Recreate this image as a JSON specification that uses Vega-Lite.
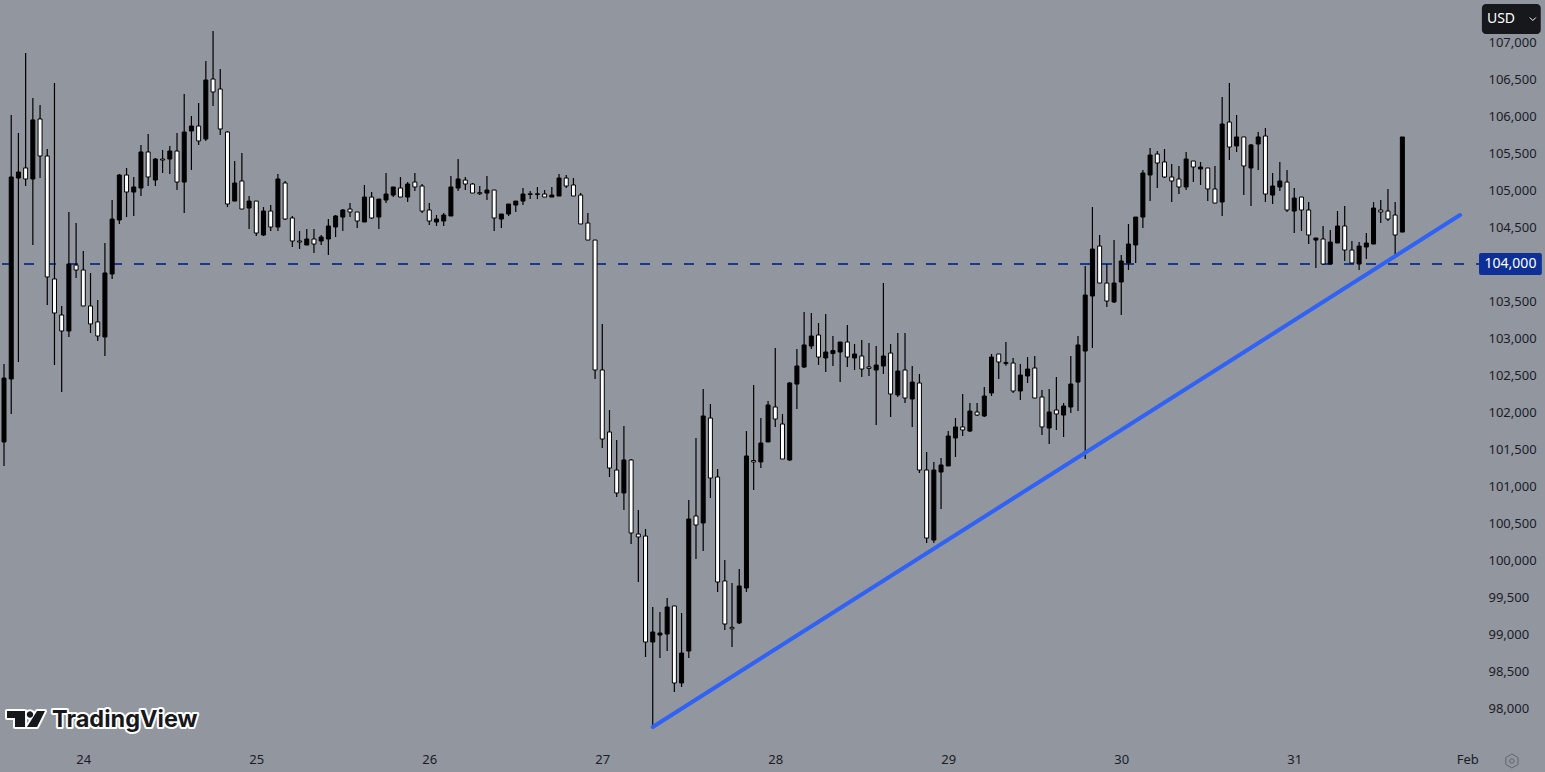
{
"$schema":"https://vega.github.io/schema/vega-lite/v6.json",
"autosize":"none",
"padding":{"left":0,"right":65,"top":0,"bottom":23},
"width":1480,"height":749,
"background":"#92969e",
"config":{"view":{"stroke":null},"font":"Noto Sans",
 "axisX":{"title":null,"grid":false,"domain":false,"ticks":false,"labelPadding":4,"labelFont":"Noto Sans","labelFontSize":13,"labelColor":"#1a1d28","labelOverlap":false,"labelBound":false,"labelFlush":false},
 "axisY":{"title":null,"grid":false,"domain":false,"ticks":false,"labelPadding":8,"labelFont":"Noto Sans","labelFontSize":13,"labelColor":"#1a1d28","labelOverlap":false,"labelBound":false}},
"datasets":{
"candles":[
{"t":"2025-01-23T13:00Z","o":101595,"h":102649,"l":101271,"c":102459},
{"t":"2025-01-23T14:00Z","o":102446,"h":106014,"l":101973,"c":105176},
{"t":"2025-01-23T15:00Z","o":105162,"h":105771,"l":102676,"c":105243},
{"t":"2025-01-23T16:00Z","o":105298,"h":106851,"l":105054,"c":105149},
{"t":"2025-01-23T17:00Z","o":105149,"h":106244,"l":104257,"c":105947},
{"t":"2025-01-23T18:00Z","o":105960,"h":106149,"l":105162,"c":105460},
{"t":"2025-01-23T19:00Z","o":105460,"h":105555,"l":103446,"c":103825},
{"t":"2025-01-23T20:00Z","o":103798,"h":106447,"l":102635,"c":103338},
{"t":"2025-01-23T21:00Z","o":103311,"h":103433,"l":102270,"c":103095},
{"t":"2025-01-23T22:00Z","o":103095,"h":104703,"l":103014,"c":104000},
{"t":"2025-01-23T23:00Z","o":103986,"h":104554,"l":103811,"c":103919},
{"t":"2025-01-24T00:00Z","o":103919,"h":104175,"l":103433,"c":103433},
{"t":"2025-01-24T01:00Z","o":103433,"h":103879,"l":103068,"c":103190},
{"t":"2025-01-24T02:00Z","o":103217,"h":103514,"l":102960,"c":103027},
{"t":"2025-01-24T03:00Z","o":103014,"h":104284,"l":102757,"c":103879},
{"t":"2025-01-24T04:00Z","o":103865,"h":104865,"l":103798,"c":104608},
{"t":"2025-01-24T05:00Z","o":104595,"h":105216,"l":104541,"c":105203},
{"t":"2025-01-24T06:00Z","o":105203,"h":105298,"l":104635,"c":104973},
{"t":"2025-01-24T07:00Z","o":104973,"h":105176,"l":104649,"c":105041},
{"t":"2025-01-24T08:00Z","o":105027,"h":105609,"l":104919,"c":105514},
{"t":"2025-01-24T09:00Z","o":105514,"h":105757,"l":105054,"c":105176},
{"t":"2025-01-24T10:00Z","o":105135,"h":105433,"l":105054,"c":105419},
{"t":"2025-01-24T11:00Z","o":105419,"h":105541,"l":105230,"c":105405},
{"t":"2025-01-24T12:00Z","o":105419,"h":105595,"l":105216,"c":105527},
{"t":"2025-01-24T13:00Z","o":105527,"h":105771,"l":105000,"c":105108},
{"t":"2025-01-24T14:00Z","o":105108,"h":106298,"l":104689,"c":105784},
{"t":"2025-01-24T15:00Z","o":105798,"h":106001,"l":105271,"c":105865},
{"t":"2025-01-24T16:00Z","o":105865,"h":106176,"l":105609,"c":105663},
{"t":"2025-01-24T17:00Z","o":105690,"h":106744,"l":105663,"c":106487},
{"t":"2025-01-24T18:00Z","o":106500,"h":107149,"l":106135,"c":106325},
{"t":"2025-01-24T19:00Z","o":106365,"h":106636,"l":105744,"c":105825},
{"t":"2025-01-24T20:00Z","o":105784,"h":105798,"l":104770,"c":104811},
{"t":"2025-01-24T21:00Z","o":104851,"h":105392,"l":104851,"c":105095},
{"t":"2025-01-24T22:00Z","o":105122,"h":105500,"l":104743,"c":104743},
{"t":"2025-01-24T23:00Z","o":104757,"h":104919,"l":104473,"c":104851},
{"t":"2025-01-25T00:00Z","o":104851,"h":104851,"l":104378,"c":104419},
{"t":"2025-01-25T01:00Z","o":104392,"h":104770,"l":104378,"c":104716},
{"t":"2025-01-25T02:00Z","o":104716,"h":104797,"l":104446,"c":104500},
{"t":"2025-01-25T03:00Z","o":104500,"h":105216,"l":104446,"c":105149},
{"t":"2025-01-25T04:00Z","o":105095,"h":105122,"l":104595,"c":104608},
{"t":"2025-01-25T05:00Z","o":104622,"h":104649,"l":104230,"c":104311},
{"t":"2025-01-25T06:00Z","o":104311,"h":104446,"l":104203,"c":104297},
{"t":"2025-01-25T07:00Z","o":104257,"h":104473,"l":104257,"c":104338},
{"t":"2025-01-25T08:00Z","o":104338,"h":104473,"l":104149,"c":104270},
{"t":"2025-01-25T09:00Z","o":104311,"h":104392,"l":104257,"c":104365},
{"t":"2025-01-25T10:00Z","o":104338,"h":104608,"l":104122,"c":104514},
{"t":"2025-01-25T11:00Z","o":104500,"h":104662,"l":104365,"c":104649},
{"t":"2025-01-25T12:00Z","o":104635,"h":104743,"l":104446,"c":104730},
{"t":"2025-01-25T13:00Z","o":104743,"h":104824,"l":104635,"c":104703},
{"t":"2025-01-25T14:00Z","o":104703,"h":104703,"l":104487,"c":104581},
{"t":"2025-01-25T15:00Z","o":104568,"h":105068,"l":104568,"c":104905},
{"t":"2025-01-25T16:00Z","o":104905,"h":104973,"l":104608,"c":104622},
{"t":"2025-01-25T17:00Z","o":104635,"h":104878,"l":104473,"c":104878},
{"t":"2025-01-25T18:00Z","o":104865,"h":105230,"l":104824,"c":104946},
{"t":"2025-01-25T19:00Z","o":104932,"h":105041,"l":104905,"c":105041},
{"t":"2025-01-25T20:00Z","o":105027,"h":105176,"l":104905,"c":104905},
{"t":"2025-01-25T21:00Z","o":104905,"h":105108,"l":104838,"c":105081},
{"t":"2025-01-25T22:00Z","o":105108,"h":105230,"l":104986,"c":105041},
{"t":"2025-01-25T23:00Z","o":105054,"h":105081,"l":104689,"c":104716},
{"t":"2025-01-26T00:00Z","o":104730,"h":104824,"l":104527,"c":104581},
{"t":"2025-01-26T01:00Z","o":104568,"h":104662,"l":104514,"c":104608},
{"t":"2025-01-26T02:00Z","o":104581,"h":104689,"l":104514,"c":104662},
{"t":"2025-01-26T03:00Z","o":104649,"h":105189,"l":104649,"c":105041},
{"t":"2025-01-26T04:00Z","o":105027,"h":105419,"l":104986,"c":105149},
{"t":"2025-01-26T05:00Z","o":105135,"h":105176,"l":105000,"c":105081},
{"t":"2025-01-26T06:00Z","o":105081,"h":105095,"l":104959,"c":104959},
{"t":"2025-01-26T07:00Z","o":104965,"h":105054,"l":104932,"c":104950},
{"t":"2025-01-26T08:00Z","o":104959,"h":105189,"l":104865,"c":105000},
{"t":"2025-01-26T09:00Z","o":105000,"h":105000,"l":104446,"c":104622},
{"t":"2025-01-26T10:00Z","o":104608,"h":104676,"l":104487,"c":104676},
{"t":"2025-01-26T11:00Z","o":104676,"h":104811,"l":104649,"c":104811},
{"t":"2025-01-26T12:00Z","o":104797,"h":104851,"l":104703,"c":104851},
{"t":"2025-01-26T13:00Z","o":104851,"h":105027,"l":104797,"c":104946},
{"t":"2025-01-26T14:00Z","o":104950,"h":104986,"l":104878,"c":104940},
{"t":"2025-01-26T15:00Z","o":104950,"h":105041,"l":104878,"c":104940},
{"t":"2025-01-26T16:00Z","o":104946,"h":105000,"l":104905,"c":104905},
{"t":"2025-01-26T17:00Z","o":104905,"h":105041,"l":104905,"c":104932},
{"t":"2025-01-26T18:00Z","o":104919,"h":105216,"l":104919,"c":105162},
{"t":"2025-01-26T19:00Z","o":105162,"h":105203,"l":105027,"c":105054},
{"t":"2025-01-26T20:00Z","o":105068,"h":105162,"l":104919,"c":104919},
{"t":"2025-01-26T21:00Z","o":104932,"h":104959,"l":104541,"c":104541},
{"t":"2025-01-26T22:00Z","o":104554,"h":104689,"l":104324,"c":104324},
{"t":"2025-01-26T23:00Z","o":104324,"h":104324,"l":102446,"c":102568},
{"t":"2025-01-27T00:00Z","o":102568,"h":103190,"l":101514,"c":101635},
{"t":"2025-01-27T01:00Z","o":101730,"h":102027,"l":101122,"c":101243},
{"t":"2025-01-27T02:00Z","o":101216,"h":101622,"l":100852,"c":100906},
{"t":"2025-01-27T03:00Z","o":100906,"h":101811,"l":100676,"c":101352},
{"t":"2025-01-27T04:00Z","o":101352,"h":101365,"l":100216,"c":100365},
{"t":"2025-01-27T05:00Z","o":100351,"h":100676,"l":99703,"c":100311},
{"t":"2025-01-27T06:00Z","o":100324,"h":100419,"l":98689,"c":98892},
{"t":"2025-01-27T07:00Z","o":98892,"h":99365,"l":97743,"c":99027},
{"t":"2025-01-27T08:00Z","o":98986,"h":99297,"l":98676,"c":99013},
{"t":"2025-01-27T09:00Z","o":99000,"h":99487,"l":98770,"c":99365},
{"t":"2025-01-27T10:00Z","o":99379,"h":99379,"l":98216,"c":98338},
{"t":"2025-01-27T11:00Z","o":98338,"h":99284,"l":98284,"c":98743},
{"t":"2025-01-27T12:00Z","o":98770,"h":100811,"l":98676,"c":100554},
{"t":"2025-01-27T13:00Z","o":100595,"h":101649,"l":100013,"c":100473},
{"t":"2025-01-27T14:00Z","o":100500,"h":102311,"l":100122,"c":101946},
{"t":"2025-01-27T15:00Z","o":101919,"h":102108,"l":100838,"c":101108},
{"t":"2025-01-27T16:00Z","o":101122,"h":101230,"l":99568,"c":99703},
{"t":"2025-01-27T17:00Z","o":99717,"h":100000,"l":99054,"c":99135},
{"t":"2025-01-27T18:00Z","o":99090,"h":99690,"l":98824,"c":99070},
{"t":"2025-01-27T19:00Z","o":99149,"h":99878,"l":99135,"c":99649},
{"t":"2025-01-27T20:00Z","o":99622,"h":101743,"l":99568,"c":101406},
{"t":"2025-01-27T21:00Z","o":101345,"h":102365,"l":100946,"c":101325},
{"t":"2025-01-27T22:00Z","o":101325,"h":101919,"l":101243,"c":101581},
{"t":"2025-01-27T23:00Z","o":101595,"h":102149,"l":101595,"c":102095},
{"t":"2025-01-28T00:00Z","o":102068,"h":102865,"l":101798,"c":101905},
{"t":"2025-01-28T01:00Z","o":101838,"h":101973,"l":101365,"c":101365},
{"t":"2025-01-28T02:00Z","o":101352,"h":102405,"l":101338,"c":102392},
{"t":"2025-01-28T03:00Z","o":102378,"h":102851,"l":102040,"c":102622},
{"t":"2025-01-28T04:00Z","o":102608,"h":103352,"l":102595,"c":102906},
{"t":"2025-01-28T05:00Z","o":102892,"h":103338,"l":102851,"c":103027},
{"t":"2025-01-28T06:00Z","o":103041,"h":103203,"l":102635,"c":102743},
{"t":"2025-01-28T07:00Z","o":102730,"h":103325,"l":102541,"c":102811},
{"t":"2025-01-28T08:00Z","o":102790,"h":103027,"l":102622,"c":102830},
{"t":"2025-01-28T09:00Z","o":102811,"h":102946,"l":102405,"c":102946},
{"t":"2025-01-28T10:00Z","o":102946,"h":103176,"l":102608,"c":102743},
{"t":"2025-01-28T11:00Z","o":102730,"h":102919,"l":102568,"c":102784},
{"t":"2025-01-28T12:00Z","o":102757,"h":102973,"l":102473,"c":102581},
{"t":"2025-01-28T13:00Z","o":102610,"h":102932,"l":102487,"c":102590},
{"t":"2025-01-28T14:00Z","o":102568,"h":102892,"l":101824,"c":102635},
{"t":"2025-01-28T15:00Z","o":102622,"h":103743,"l":102514,"c":102757},
{"t":"2025-01-28T16:00Z","o":102797,"h":102919,"l":101933,"c":102243},
{"t":"2025-01-28T17:00Z","o":102230,"h":103068,"l":102203,"c":102554},
{"t":"2025-01-28T18:00Z","o":102568,"h":103068,"l":102122,"c":102189},
{"t":"2025-01-28T19:00Z","o":102176,"h":102622,"l":101798,"c":102405},
{"t":"2025-01-28T20:00Z","o":102392,"h":102514,"l":101176,"c":101216},
{"t":"2025-01-28T21:00Z","o":101216,"h":101460,"l":100230,"c":100297},
{"t":"2025-01-28T22:00Z","o":100270,"h":101325,"l":100230,"c":101216},
{"t":"2025-01-28T23:00Z","o":101189,"h":101379,"l":100689,"c":101284},
{"t":"2025-01-29T00:00Z","o":101271,"h":101743,"l":101271,"c":101676},
{"t":"2025-01-29T01:00Z","o":101649,"h":101919,"l":101392,"c":101798},
{"t":"2025-01-29T02:00Z","o":101798,"h":102243,"l":101676,"c":101757},
{"t":"2025-01-29T03:00Z","o":101743,"h":102122,"l":101730,"c":102013},
{"t":"2025-01-29T04:00Z","o":102000,"h":102122,"l":101946,"c":101959},
{"t":"2025-01-29T05:00Z","o":101946,"h":102338,"l":101933,"c":102216},
{"t":"2025-01-29T06:00Z","o":102257,"h":102784,"l":102216,"c":102743},
{"t":"2025-01-29T07:00Z","o":102784,"h":102784,"l":102446,"c":102676},
{"t":"2025-01-29T08:00Z","o":102670,"h":102946,"l":102625,"c":102655},
{"t":"2025-01-29T09:00Z","o":102662,"h":102730,"l":102257,"c":102284},
{"t":"2025-01-29T10:00Z","o":102284,"h":102649,"l":102162,"c":102500},
{"t":"2025-01-29T11:00Z","o":102487,"h":102743,"l":102392,"c":102581},
{"t":"2025-01-29T12:00Z","o":102595,"h":102757,"l":102189,"c":102189},
{"t":"2025-01-29T13:00Z","o":102203,"h":102297,"l":101690,"c":101798},
{"t":"2025-01-29T14:00Z","o":101784,"h":102311,"l":101568,"c":102000},
{"t":"2025-01-29T15:00Z","o":102027,"h":102473,"l":101757,"c":101973},
{"t":"2025-01-29T16:00Z","o":101959,"h":102122,"l":101662,"c":102081},
{"t":"2025-01-29T17:00Z","o":102068,"h":102757,"l":101987,"c":102378},
{"t":"2025-01-29T18:00Z","o":102405,"h":103027,"l":102013,"c":102906},
{"t":"2025-01-29T19:00Z","o":102824,"h":103973,"l":101365,"c":103581},
{"t":"2025-01-29T20:00Z","o":103568,"h":104770,"l":102865,"c":104203},
{"t":"2025-01-29T21:00Z","o":104243,"h":104392,"l":103743,"c":103743},
{"t":"2025-01-29T22:00Z","o":103743,"h":104000,"l":103419,"c":103500},
{"t":"2025-01-29T23:00Z","o":103487,"h":104324,"l":103473,"c":103743},
{"t":"2025-01-30T00:00Z","o":103757,"h":104122,"l":103311,"c":104041},
{"t":"2025-01-30T01:00Z","o":104014,"h":104541,"l":103919,"c":104270},
{"t":"2025-01-30T02:00Z","o":104257,"h":104635,"l":104014,"c":104635},
{"t":"2025-01-30T03:00Z","o":104635,"h":105271,"l":104487,"c":105230},
{"t":"2025-01-30T04:00Z","o":105203,"h":105568,"l":104851,"c":105473},
{"t":"2025-01-30T05:00Z","o":105487,"h":105527,"l":105027,"c":105365},
{"t":"2025-01-30T06:00Z","o":105379,"h":105555,"l":105162,"c":105176},
{"t":"2025-01-30T07:00Z","o":105176,"h":105352,"l":104838,"c":105122},
{"t":"2025-01-30T08:00Z","o":105149,"h":105325,"l":104946,"c":105041},
{"t":"2025-01-30T09:00Z","o":105041,"h":105514,"l":105000,"c":105419},
{"t":"2025-01-30T10:00Z","o":105392,"h":105392,"l":105108,"c":105311},
{"t":"2025-01-30T11:00Z","o":105284,"h":105379,"l":105068,"c":105311},
{"t":"2025-01-30T12:00Z","o":105298,"h":105298,"l":104851,"c":105014},
{"t":"2025-01-30T13:00Z","o":105014,"h":105325,"l":104824,"c":104824},
{"t":"2025-01-30T14:00Z","o":104838,"h":106257,"l":104649,"c":105892},
{"t":"2025-01-30T15:00Z","o":105919,"h":106447,"l":105406,"c":105581},
{"t":"2025-01-30T16:00Z","o":105595,"h":106014,"l":105514,"c":105717},
{"t":"2025-01-30T17:00Z","o":105717,"h":105717,"l":104932,"c":105325},
{"t":"2025-01-30T18:00Z","o":105298,"h":105622,"l":104784,"c":105609},
{"t":"2025-01-30T19:00Z","o":105622,"h":105784,"l":105271,"c":105717},
{"t":"2025-01-30T20:00Z","o":105730,"h":105838,"l":104838,"c":104946},
{"t":"2025-01-30T21:00Z","o":104932,"h":105230,"l":104811,"c":105054},
{"t":"2025-01-30T22:00Z","o":105041,"h":105379,"l":104986,"c":105122},
{"t":"2025-01-30T23:00Z","o":105108,"h":105271,"l":104703,"c":104730},
{"t":"2025-01-31T00:00Z","o":104716,"h":105027,"l":104419,"c":104892},
{"t":"2025-01-31T01:00Z","o":104905,"h":104905,"l":104446,"c":104730},
{"t":"2025-01-31T02:00Z","o":104730,"h":104838,"l":104270,"c":104392},
{"t":"2025-01-31T03:00Z","o":104324,"h":104351,"l":103946,"c":104351},
{"t":"2025-01-31T04:00Z","o":104338,"h":104514,"l":104000,"c":104000},
{"t":"2025-01-31T05:00Z","o":104000,"h":104460,"l":104000,"c":104297},
{"t":"2025-01-31T06:00Z","o":104284,"h":104716,"l":104284,"c":104514},
{"t":"2025-01-31T07:00Z","o":104514,"h":104784,"l":104041,"c":104189},
{"t":"2025-01-31T08:00Z","o":104189,"h":104311,"l":104014,"c":104014},
{"t":"2025-01-31T09:00Z","o":104000,"h":104297,"l":103919,"c":104243},
{"t":"2025-01-31T10:00Z","o":104230,"h":104419,"l":104068,"c":104284},
{"t":"2025-01-31T11:00Z","o":104270,"h":104838,"l":104270,"c":104757},
{"t":"2025-01-31T12:00Z","o":104730,"h":104865,"l":104554,"c":104703},
{"t":"2025-01-31T13:00Z","o":104716,"h":105014,"l":104581,"c":104608},
{"t":"2025-01-31T14:00Z","o":104662,"h":104838,"l":104122,"c":104392},
{"t":"2025-01-31T15:00Z","o":104432,"h":105717,"l":104432,"c":105717}
],
"trend":[{"t":"2025-01-27T07:00Z","p":97743},{"t":"2025-01-31T23:00Z","p":104662}],
"level":[{"p":104000}],
"tag":[{"t":"2025-02-01T01:38Z","t2":"2025-02-01T10:21Z","p":104149,"p2":103851}],
"tagText":[{"t":"2025-02-01T06:00Z","p":104000,"label":"104,000"}],
"usd":[{"t":"2025-02-01T02:02Z","t2":"2025-02-01T10:12Z","p":107514,"p2":107108}],
"usdText":[{"t":"2025-02-01T02:44Z","p":107311,"label":"USD"}],
"chevron":[{"t":"2025-02-01T09:06Z","p":107311}],
"gear":[{"t":"2025-02-01T06:12Z","p":97284}],
"logo":[{"t":"2025-01-23T16:03Z","p":97851}],
"brand":[{"t":"2025-01-23T19:40Z","p":97838,"label":"TradingView"}]
},
"layer":[
{"data":{"name":"level"},"mark":{"type":"rule","color":"#1b3a8c","strokeWidth":2,"strokeDash":[10,12],"strokeDashOffset":6},
 "encoding":{"y":{"field":"p","type":"quantitative","scale":{"domain":[97446,107568],"zero":false,"nice":false},
  "axis":{"orient":"right","values":[98000,98500,99000,99500,100000,100500,101000,101500,102000,102500,103000,103500,104500,105000,105500,106000,106500,107000],"format":",d"}}}},
{"data":{"name":"candles"},"mark":{"type":"rule","color":"#000000","strokeWidth":1.2},
 "encoding":{
  "x":{"field":"t","type":"temporal","scale":{"type":"utc","domain":[1737635194800,1738374372000],"nice":false,"padding":0},
   "axis":{"values":[1737676800000,1737763200000,1737849600000,1737936000000,1738022400000,1738108800000,1738195200000,1738281600000,1738368000000],"labelExpr":"utcdate(datum.value)==1?'Feb':utcdate(datum.value)"}},
  "y":{"field":"h","type":"quantitative","scale":{"domain":[97446,107568],"zero":false,"nice":false},"axis":{"orient":"right"}},
  "y2":{"field":"l"}}},
{"data":{"name":"candles"},"mark":{"type":"bar","width":4,"stroke":"#000000","strokeWidth":1},
 "encoding":{
  "x":{"field":"t","type":"temporal","scale":{"type":"utc","domain":[1737635194800,1738374372000],"nice":false,"padding":0}},
  "y":{"field":"o","type":"quantitative","scale":{"domain":[97446,107568],"zero":false,"nice":false},"axis":{"orient":"right"}},
  "y2":{"field":"c"},
  "fill":{"condition":{"test":"datum.c>datum.o","value":"#000000"},"value":"#ffffff"}}},
{"data":{"name":"trend"},"mark":{"type":"line","color":"#2f62f5","strokeWidth":4,"strokeCap":"round"},
 "encoding":{
  "x":{"field":"t","type":"temporal","scale":{"type":"utc","domain":[1737635194800,1738374372000],"nice":false,"padding":0}},
  "y":{"field":"p","type":"quantitative","scale":{"domain":[97446,107568],"zero":false,"nice":false},"axis":{"orient":"right"}}}},
{"data":{"name":"tag"},"mark":{"type":"rect","color":"#0e2f96","cornerRadius":2},
 "encoding":{
  "x":{"field":"t","type":"temporal","scale":{"type":"utc","domain":[1737635194800,1738374372000],"nice":false,"padding":0}},
  "x2":{"field":"t2"},
  "y":{"field":"p","type":"quantitative","scale":{"domain":[97446,107568],"zero":false,"nice":false},"axis":{"orient":"right"}},
  "y2":{"field":"p2"}}},
{"data":{"name":"tagText"},"mark":{"type":"text","color":"#ffffff","font":"Noto Sans","fontSize":14,"align":"center","baseline":"middle"},
 "encoding":{
  "x":{"field":"t","type":"temporal","scale":{"type":"utc","domain":[1737635194800,1738374372000],"nice":false,"padding":0}},
  "y":{"field":"p","type":"quantitative","scale":{"domain":[97446,107568],"zero":false,"nice":false},"axis":{"orient":"right"}},
  "text":{"field":"label"}}},
{"data":{"name":"usd"},"mark":{"type":"rect","color":"#17181c","cornerRadius":4},
 "encoding":{
  "x":{"field":"t","type":"temporal","scale":{"type":"utc","domain":[1737635194800,1738374372000],"nice":false,"padding":0}},
  "x2":{"field":"t2"},
  "y":{"field":"p","type":"quantitative","scale":{"domain":[97446,107568],"zero":false,"nice":false},"axis":{"orient":"right"}},
  "y2":{"field":"p2"}}},
{"data":{"name":"usdText"},"mark":{"type":"text","color":"#ffffff","font":"Noto Sans","fontSize":14,"align":"left","baseline":"middle"},
 "encoding":{
  "x":{"field":"t","type":"temporal","scale":{"type":"utc","domain":[1737635194800,1738374372000],"nice":false,"padding":0}},
  "y":{"field":"p","type":"quantitative","scale":{"domain":[97446,107568],"zero":false,"nice":false},"axis":{"orient":"right"}},
  "text":{"field":"label"}}},
{"data":{"name":"chevron"},"mark":{"type":"point","shape":"M-1,-0.5L0,0.5L1,-0.5","filled":false,"stroke":"#ffffff","strokeWidth":1,"size":36,"opacity":1},
 "encoding":{
  "x":{"field":"t","type":"temporal","scale":{"type":"utc","domain":[1737635194800,1738374372000],"nice":false,"padding":0}},
  "y":{"field":"p","type":"quantitative","scale":{"domain":[97446,107568],"zero":false,"nice":false},"axis":{"orient":"right"}}}},
{"data":{"name":"gear"},"mark":{"type":"point","shape":"M0,-1L0.87,-0.5L0.87,0.5L0,1L-0.87,0.5L-0.87,-0.5Z","filled":false,"stroke":"#62656f","strokeWidth":1,"size":196,"opacity":1},
 "encoding":{
  "x":{"field":"t","type":"temporal","scale":{"type":"utc","domain":[1737635194800,1738374372000],"nice":false,"padding":0}},
  "y":{"field":"p","type":"quantitative","scale":{"domain":[97446,107568],"zero":false,"nice":false},"axis":{"orient":"right"}}}},
{"data":{"name":"gear"},"mark":{"type":"point","shape":"circle","filled":false,"stroke":"#62656f","strokeWidth":1,"size":20,"opacity":1},
 "encoding":{
  "x":{"field":"t","type":"temporal","scale":{"type":"utc","domain":[1737635194800,1738374372000],"nice":false,"padding":0}},
  "y":{"field":"p","type":"quantitative","scale":{"domain":[97446,107568],"zero":false,"nice":false},"axis":{"orient":"right"}}}},
{"data":{"name":"logo"},"mark":{"type":"point","shape":"M-1,-0.42L-0.05,-0.42L-0.05,0.42L-0.58,0.42L-0.58,-0.05L-1,-0.05ZM0.58,-0.42L1,-0.42L0.58,0.42L0.05,0.42ZM0.04,-0.24a0.17,0.17 0 1 0 0.34,0a0.17,0.17 0 1 0 -0.34,0Z","filled":false,"stroke":"#ffffff","strokeWidth":4,"strokeJoin":"round","size":1444,"opacity":1},
 "encoding":{
  "x":{"field":"t","type":"temporal","scale":{"type":"utc","domain":[1737635194800,1738374372000],"nice":false,"padding":0}},
  "y":{"field":"p","type":"quantitative","scale":{"domain":[97446,107568],"zero":false,"nice":false},"axis":{"orient":"right"}}}},
{"data":{"name":"logo"},"mark":{"type":"point","shape":"M-1,-0.42L-0.05,-0.42L-0.05,0.42L-0.58,0.42L-0.58,-0.05L-1,-0.05ZM0.58,-0.42L1,-0.42L0.58,0.42L0.05,0.42ZM0.04,-0.24a0.17,0.17 0 1 0 0.34,0a0.17,0.17 0 1 0 -0.34,0Z","filled":true,"fill":"#17181c","stroke":null,"size":1444,"opacity":1},
 "encoding":{
  "x":{"field":"t","type":"temporal","scale":{"type":"utc","domain":[1737635194800,1738374372000],"nice":false,"padding":0}},
  "y":{"field":"p","type":"quantitative","scale":{"domain":[97446,107568],"zero":false,"nice":false},"axis":{"orient":"right"}}}},
{"data":{"name":"brand"},"mark":{"type":"text","font":"Inter","fontWeight":"bold","fontSize":23.5,"align":"left","baseline":"middle","fill":"#ffffff","stroke":"#ffffff","strokeWidth":4,"strokeJoin":"round"},
 "encoding":{
  "x":{"field":"t","type":"temporal","scale":{"type":"utc","domain":[1737635194800,1738374372000],"nice":false,"padding":0}},
  "y":{"field":"p","type":"quantitative","scale":{"domain":[97446,107568],"zero":false,"nice":false},"axis":{"orient":"right"}},
  "text":{"field":"label"}}},
{"data":{"name":"brand"},"mark":{"type":"text","font":"Inter","fontWeight":"bold","fontSize":23.5,"align":"left","baseline":"middle","fill":"#17181c"},
 "encoding":{
  "x":{"field":"t","type":"temporal","scale":{"type":"utc","domain":[1737635194800,1738374372000],"nice":false,"padding":0}},
  "y":{"field":"p","type":"quantitative","scale":{"domain":[97446,107568],"zero":false,"nice":false},"axis":{"orient":"right"}},
  "text":{"field":"label"}}}
]
}
